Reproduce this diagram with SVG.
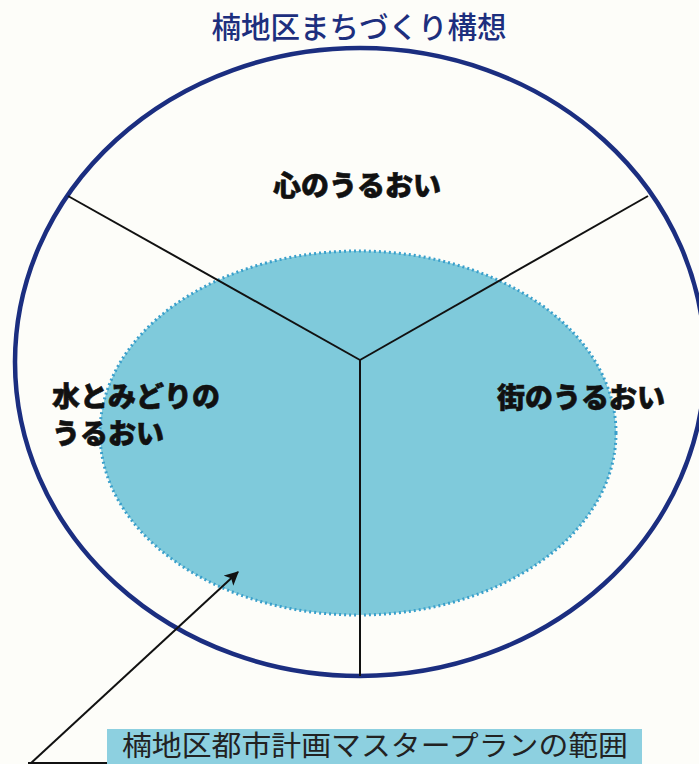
<svg xmlns="http://www.w3.org/2000/svg" width="699" height="764" viewBox="0 0 699 764">
<defs>
<marker id="ah2" viewBox="0 0 12 12" refX="11" refY="6" markerWidth="14" markerHeight="14" markerUnits="userSpaceOnUse" orient="auto">
<path d="M0,0 L12,6 L0,12 L3,6 Z" fill="#111"/>
</marker>
</defs>
<style>
.lbl{font-family:"Noto Sans CJK JP","Noto Sans",sans-serif;font-weight:900;font-size:28px;fill:#111;stroke:#111;stroke-width:0.6}
.title{font-family:"Noto Sans CJK JP","Noto Sans",sans-serif;font-weight:500;font-size:29.5px;fill:#1d2f7e}
.box{font-family:"Noto Sans CJK JP","Noto Sans",sans-serif;font-weight:400;font-size:28px;fill:#222}
.ln{stroke:#111;stroke-width:2;fill:none}
</style>
<rect width="699" height="764" fill="#fdfdf9"/>
<g id="title"><text class="title" x="359" y="38" text-anchor="middle">楠地区まちづくり構想</text></g>
<g id="plan-area">
<ellipse cx="358" cy="433" rx="258" ry="182" fill="#7fcadb" stroke="#3a9fcb" stroke-width="3" stroke-dasharray="2 3"/>
</g>
<g id="outer">
<ellipse cx="360" cy="362" rx="345" ry="314" fill="none" stroke="#1b2e80" stroke-width="4.5"/>
</g>
<g id="connectors">
<line class="ln" x1="360" y1="360" x2="68" y2="196"/>
<line class="ln" x1="360" y1="360" x2="648" y2="196"/>
<line class="ln" x1="360" y1="360" x2="360" y2="676"/>
<line class="ln" x1="30" y1="764" x2="238" y2="572" marker-end="url(#ah2)"/>
<line class="ln" x1="28" y1="763" x2="110" y2="763"/>
</g>
<g id="kokoro"><text class="lbl" x="357" y="196" text-anchor="middle">心のうるおい</text></g>
<g id="mizu"><text class="lbl" x="52" y="407">水とみどりの</text><text class="lbl" x="52" y="444">うるおい</text></g>
<g id="machi"><text class="lbl" x="497" y="408">街のうるおい</text></g>
<g id="label">
<rect x="107" y="729" width="535" height="35" fill="#8dd0e0"/>
<text class="box" x="122" y="756" textLength="506" lengthAdjust="spacingAndGlyphs">楠地区都市計画マスタープランの範囲</text>
</g>
</svg>
